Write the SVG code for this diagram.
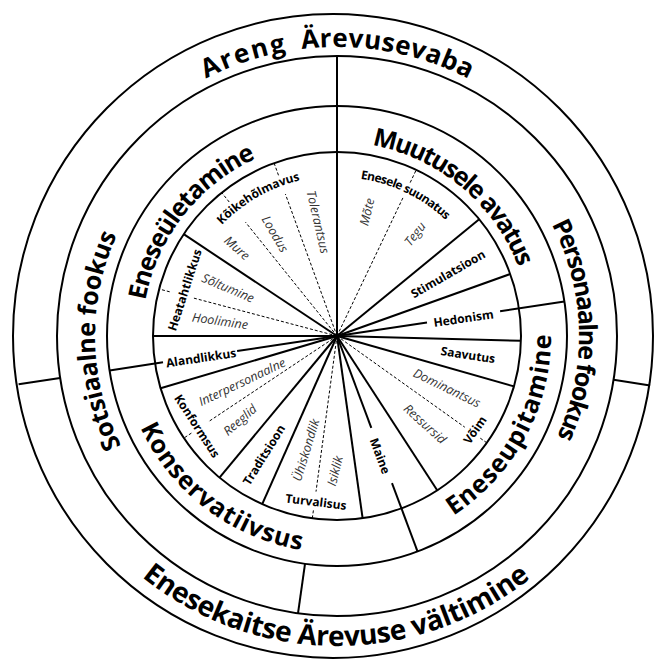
<svg xmlns="http://www.w3.org/2000/svg" width="656" height="659" viewBox="0 0 656 659">
<defs>
<style>
.ring{fill:none;stroke:#000;stroke-width:2}
.sl{stroke:#000;stroke-width:2;fill:none}
.dl{stroke:#000;stroke-width:1;stroke-dasharray:3 2;fill:none}
.big{font-family:"Open Sans","Liberation Sans",sans-serif;font-weight:700;fill:#000}
.b{font-family:"Open Sans","Liberation Sans",sans-serif;font-weight:700;font-size:12px;fill:#000}
.i{font-family:"Open Sans","Liberation Sans",sans-serif;font-style:italic;font-weight:400;font-size:12.5px;fill:#333}
</style>
<path id="pAreng" d="M205.8 78.5 A289 289 0 0 1 286.8 51.4"/>
<path id="pArev" d="M301.8 49.2 A289 289 0 0 1 470.4 79.7"/>
<path id="pEnk" d="M141.9 576.9 A310 310 0 0 0 532.1 576.9"/>
<path id="pSots" d="M121.4 445.9 A242 242 0 0 1 117.7 233.7"/>
<path id="pPers" d="M551.7 224.3 A242 242 0 0 1 556.3 438.3"/>
<path id="pEul" d="M145.3 300.5 A195 195 0 0 1 257.1 158.1"/>
<path id="pMuu" d="M372.0 145.2 A194 194 0 0 1 518.7 268.1"/>
<path id="pEup" d="M453.5 515.5 A214 214 0 0 0 551.0 332.3"/>
<path id="pKons" d="M140.3 427.7 A217 217 0 0 0 303.1 550.3"/>
<path id="pKoik" d="M221.9 224.9 A160 160 0 0 1 301.0 180.1"/>
<path id="pEnes" d="M360.5 178.7 A159 159 0 0 1 446.4 220.7"/>
</defs>
<rect width="656" height="659" fill="#fff"/>

<g id="connectors">
<line class="sl" x1="337" y1="336" x2="337" y2="56"/>
<line class="sl" x1="337" y1="336" x2="479.2" y2="219.2"/>
<line class="sl" x1="337" y1="336" x2="510.2" y2="274.0"/>
<line class="sl" x1="337" y1="336" x2="520.9" y2="340.8"/>
<line class="sl" x1="337" y1="336" x2="514.0" y2="386.4"/>
<line class="sl" x1="337" y1="336" x2="437.2" y2="490.3"/>
<line class="sl" x1="337" y1="336" x2="362.6" y2="518.2"/>
<line class="sl" x1="337" y1="336" x2="262.2" y2="504.1"/>
<line class="sl" x1="337" y1="336" x2="219.5" y2="477.6"/>
<line class="sl" x1="337" y1="336" x2="160.6" y2="388.3"/>
<line class="sl" x1="337" y1="336" x2="153" y2="336"/>
<line class="sl" x1="337" y1="336" x2="183.7" y2="234.2"/>
<line class="sl" x1="337" y1="336" x2="427.0" y2="322.4"/>
<line class="sl" x1="500.1" y1="311.3" x2="564.4" y2="301.6"/>
<line class="sl" x1="337" y1="336" x2="371.3" y2="427.8"/>
<line class="sl" x1="392.0" y1="483.1" x2="417.5" y2="551.4"/>
<line class="sl" x1="337" y1="336" x2="237.1" y2="351.1"/>
<line class="sl" x1="163.0" y1="362.3" x2="109.6" y2="370.4"/>
<line class="sl" x1="60.1" y1="377.9" x2="18.6" y2="384.2"/>
<line class="sl" x1="613.6" y1="379.8" x2="650.1" y2="385.6"/>
<line class="sl" x1="305.0" y1="563.8" x2="298.0" y2="613.3"/>
<line class="dl" x1="337" y1="336" x2="402.9" y2="197.9"/>
<line class="dl" x1="410.2" y1="182.6" x2="416.2" y2="169.9"/>
<line class="dl" x1="337" y1="336" x2="464.8" y2="427.2"/>
<line class="dl" x1="480.3" y1="438.2" x2="486.8" y2="442.8"/>
<line class="dl" x1="337" y1="336" x2="316.0" y2="491.6"/>
<line class="dl" x1="313.4" y1="510.4" x2="312.3" y2="518.3"/>
<line class="dl" x1="337" y1="336" x2="208.0" y2="422.0"/>
<line class="dl" x1="191.4" y1="433.1" x2="183.9" y2="438.1"/>
<line class="dl" x1="337" y1="336" x2="193.0" y2="297.9"/>
<line class="dl" x1="169.7" y1="291.8" x2="159.1" y2="289.0"/>
<line class="dl" x1="337" y1="336" x2="245.5" y2="222.2"/>
<line class="dl" x1="229.2" y1="202.0" x2="221.7" y2="192.6"/>
<line class="dl" x1="337" y1="336" x2="285.4" y2="194.1"/>
<line class="dl" x1="278.5" y1="175.3" x2="274.1" y2="163.1"/>
</g>

<g id="rings">
<ellipse class="ring" cx="333" cy="336" rx="320" ry="322"/>
<circle class="ring" cx="337" cy="336" r="280"/>
<circle class="ring" cx="337" cy="336" r="230"/>
<circle class="ring" cx="337" cy="336" r="184"/>
</g>

<g id="outer-top">
<text class="big" font-size="26"><textPath href="#pAreng" textLength="85" lengthAdjust="spacing">Areng</textPath></text>
<text class="big" font-size="26"><textPath href="#pArev" textLength="172" lengthAdjust="spacing">Ärevusevaba</textPath></text>
</g>
<g id="outer-bottom">
<text class="big" font-size="28"><textPath href="#pEnk" textLength="420" lengthAdjust="spacing">Enesekaitse Ärevuse vältimine</textPath></text>
</g>
<g id="sotsiaalne-fookus">
<text class="big" font-size="25"><textPath href="#pSots" textLength="218" lengthAdjust="spacing">Sotsiaalne fookus</textPath></text>
</g>
<g id="personaalne-fookus">
<text class="big" font-size="25"><textPath href="#pPers" textLength="220" lengthAdjust="spacing">Personaalne fookus</textPath></text>
</g>
<g id="eneseuletamine">
<text class="big" font-size="25"><textPath href="#pEul" textLength="187" lengthAdjust="spacing">Eneseületamine</textPath></text>
</g>
<g id="muutusele-avatus">
<text class="big" font-size="25"><textPath href="#pMuu" textLength="199" lengthAdjust="spacing">Muutusele avatus</textPath></text>
</g>
<g id="eneseupitamine">
<text class="big" font-size="25"><textPath href="#pEup" textLength="214" lengthAdjust="spacing">Eneseupitamine</textPath></text>
</g>
<g id="konservatiivsus">
<text class="big" font-size="25"><textPath href="#pKons" textLength="210" lengthAdjust="spacing">Konservatiivsus</textPath></text>
</g>

<g id="koikeholmavus">
<text class="b"><textPath href="#pKoik" textLength="91" lengthAdjust="spacing">Kõikehõlmavus</textPath></text>
<text class="i" text-anchor="middle" dy="0.35em" transform="translate(318,222) rotate(77)">Tolerantsus</text>
<text class="i" text-anchor="middle" dy="0.35em" transform="translate(275,234) rotate(60)">Loodus</text>
<text class="i" text-anchor="middle" dy="0.35em" transform="translate(237,248) rotate(41)">Mure</text>
</g>
<g id="heatahtlikkus">
<text class="b" text-anchor="middle" dy="0.35em" transform="translate(184.8,290) rotate(-72)">Heatahtlikkus</text>
<text class="i" text-anchor="middle" dy="0.35em" transform="translate(228,288) rotate(23)">Sõltumine</text>
<text class="i" text-anchor="middle" dy="0.35em" transform="translate(220,321) rotate(8)">Hoolimine</text>
</g>
<g id="alandlikkus">
<text class="b" text-anchor="middle" dy="0.35em" transform="translate(201,358) rotate(-8.5)">Alandlikkus</text>
</g>
<g id="konformsus">
<text class="b" text-anchor="middle" dy="0.35em" transform="translate(197,426) rotate(57)">Konformsus</text>
<text class="i" text-anchor="middle" dy="0.35em" transform="translate(242,382) rotate(-25.5)">Interpersonaalne</text>
<text class="i" text-anchor="middle" dy="0.35em" transform="translate(240,420) rotate(-41)">Reeglid</text>
</g>
<g id="traditsioon">
<text class="b" text-anchor="middle" dy="0.35em" transform="translate(264,455) rotate(-58)">Traditsioon</text>
</g>
<g id="turvalisus">
<text class="b" text-anchor="middle" dy="0.35em" transform="translate(316,502) rotate(7)">Turvalisus</text>
<text class="i" text-anchor="middle" dy="0.35em" transform="translate(306,450) rotate(-73)">Ühiskondlik</text>
<text class="i" text-anchor="middle" dy="0.35em" transform="translate(335,471) rotate(-76)">Isiklik</text>
</g>
<g id="maine">
<text class="b" text-anchor="middle" dy="0.35em" transform="translate(380,456) rotate(69.5)">Maine</text>
</g>
<g id="voim">
<text class="b" text-anchor="middle" dy="0.35em" transform="translate(475,430) rotate(-55)">Võim</text>
<text class="i" text-anchor="middle" dy="0.35em" transform="translate(447,388) rotate(26)">Dominantsus</text>
<text class="i" text-anchor="middle" dy="0.35em" transform="translate(425,424) rotate(42)">Ressursid</text>
</g>
<g id="saavutus">
<text class="b" text-anchor="middle" dy="0.35em" transform="translate(468,355) rotate(8.5)">Saavutus</text>
</g>
<g id="hedonism">
<text class="b" text-anchor="middle" dy="0.35em" transform="translate(463.5,318.5) rotate(-8.4)">Hedonism</text>
</g>
<g id="stimulatsioon">
<text class="b" text-anchor="middle" dy="0.35em" transform="translate(448,274) rotate(-30)">Stimulatsioon</text>
</g>
<g id="enesele-suunatus">
<text class="b"><textPath href="#pEnes" textLength="96" lengthAdjust="spacing">Enesele suunatus</textPath></text>
<text class="i" text-anchor="middle" dy="0.35em" transform="translate(367,212) rotate(-76)">Mõte</text>
<text class="i" text-anchor="middle" dy="0.35em" transform="translate(415,234) rotate(-52)">Tegu</text>
</g>
</svg>
